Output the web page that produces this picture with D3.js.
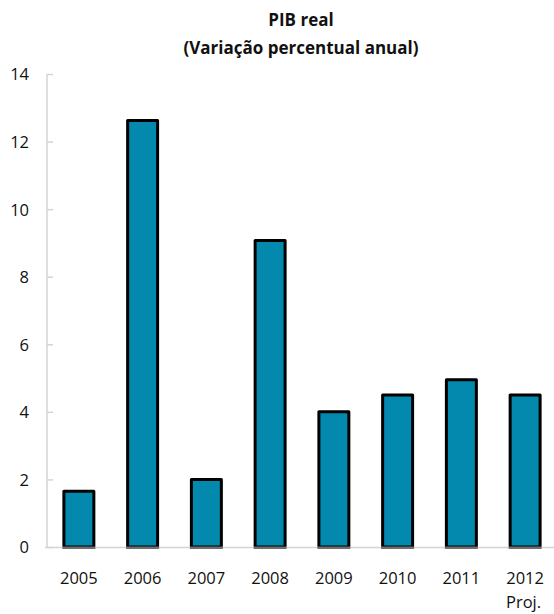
<!DOCTYPE html>
<html>
<head>
<meta charset="utf-8">
<script src="https://cdn.jsdelivr.net/npm/d3@7"></script>
<style>
  html, body { margin: 0; padding: 0; background: #fff; }
  svg { display: block; }
  text { font-family: "Open Sans", "Noto Sans", sans-serif; fill: #111; }
</style>
</head>
<body>
<svg id="chart" width="554" height="614"></svg>
<script>
// Real GDP, annual percentage change
const years = ["2005", "2006", "2007", "2008", "2009", "2010", "2011", "2012"];
const growth = [1.65, 12.62, 2.0, 9.07, 4.0, 4.5, 4.95, 4.5];
const yTicks = [0, 2, 4, 6, 8, 10, 12, 14];
const titleLines = ["PIB real", "(Variação percentual anual)"];
const projNote = "Proj.";

const svg = d3.select("#chart");
const plotLeft = 47, plotRight = 557, plotTop = 74, plotBottom = 547;

const x = d3.scaleBand().domain(years).range([plotLeft, plotRight]).paddingInner(0.53).paddingOuter(0.265);
const y = d3.scaleLinear().domain([0, 14]).range([plotBottom, plotTop]);

// Title
svg.append("g").selectAll("text").data(titleLines).join("text")
  .attr("x", 301).attr("y", (d, i) => 26 + i * 28)
  .attr("text-anchor", "middle")
  .attr("font-weight", "bold")
  .attr("font-size", 17)
  .text(d => d);

// Y axis (ticks pointing inward, labels at the left)
const yAxis = svg.append("g")
  .attr("transform", `translate(${plotLeft},0)`)
  .call(d3.axisRight(y).tickValues(yTicks).tickSize(6).tickFormat(d3.format("d")));
yAxis.select(".domain").attr("stroke", "#d4d4d4").attr("stroke-width", 1.5)
  .attr("d", `M0,${plotTop}V${plotBottom}`);
yAxis.selectAll(".tick line").attr("stroke", "#d4d4d4").attr("stroke-width", 1.5);
yAxis.selectAll(".tick text")
  .attr("x", -18).attr("text-anchor", "end").attr("dy", "0.36em")
  .attr("font-size", 16.5).attr("fill", "#111");

// Bar shadows
svg.append("g").selectAll("rect").data(years).join("rect")
  .attr("x", d => x(d) - 1)
  .attr("y", (d, i) => y(growth[i]) - 1)
  .attr("width", x.bandwidth() + 2)
  .attr("height", (d, i) => y(0) - y(growth[i]) + 3)
  .attr("fill", "#9a9a9a").attr("opacity", 0.5);

// Bars
svg.append("g").selectAll("rect").data(years).join("rect")
  .attr("x", d => x(d))
  .attr("y", (d, i) => y(growth[i]))
  .attr("width", x.bandwidth())
  .attr("height", (d, i) => y(0) - y(growth[i]))
  .attr("fill", "#0389ad")
  .attr("stroke", "#000")
  .attr("stroke-width", 3)
  .attr("stroke-linejoin", "round");

// X axis baseline
svg.append("line")
  .attr("x1", plotLeft - 2).attr("x2", 554)
  .attr("y1", y(0) + 0.5).attr("y2", y(0) + 0.5)
  .attr("stroke", "#d4d4d4").attr("stroke-width", 1.5);

// Bar bottom edges sit over the baseline in grey
svg.append("g").selectAll("line").data(years).join("line")
  .attr("x1", d => x(d) - 1.5).attr("x2", d => x(d) + x.bandwidth() + 1.5)
  .attr("y1", y(0) + 1).attr("y2", y(0) + 1)
  .attr("stroke", "#6e6e6e").attr("stroke-width", 2);

// X labels
svg.append("g").selectAll("text").data(years).join("text")
  .attr("x", d => x(d) + x.bandwidth() / 2)
  .attr("y", 584)
  .attr("text-anchor", "middle")
  .attr("font-size", 16.5)
  .text(d => d);

svg.append("text")
  .attr("x", x(years[years.length - 1]) + x.bandwidth() + 1)
  .attr("y", 608)
  .attr("text-anchor", "end")
  .attr("font-size", 16.5)
  .text(projNote);
</script>
</body>
</html>
